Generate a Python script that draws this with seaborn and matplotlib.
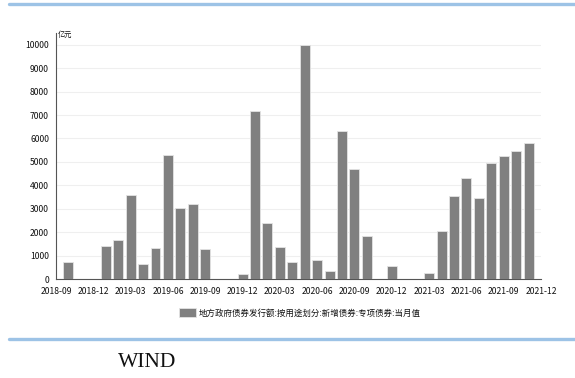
import seaborn as sns
import matplotlib.pyplot as plt
import matplotlib.ticker as mticker
from matplotlib.lines import Line2D
from matplotlib.patches import Patch
import pandas as pd

# Monthly new special-purpose local government bond issuance (亿元), 2018-10 .. 2021-11
months = pd.period_range("2018-10", "2021-11", freq="M").strftime("%Y-%m").tolist()
values = [
    730, 0, 0, 1420, 1680, 3600, 650, 1320, 5310, 3020, 3210, 1260,   # 2018-10 .. 2019-09
    0, 0, 200, 7150, 2380, 1360, 720, 9980, 820, 340, 6330, 4710,      # 2019-10 .. 2020-09
    1850, 0, 570, 0, 0, 270, 2060, 3550, 4330, 3440, 4940, 5270,       # 2020-10 .. 2021-09
    5460, 5820,                                                       # 2021-10 .. 2021-11
]
axis_start = "2018-09"
axis_end = "2021-12"
tick_labels = pd.period_range(axis_start, axis_end, freq="3M").strftime("%Y-%m").tolist()
legend_label = "地方政府债券发行额:按用途划分:新增债券:专项债券:当月值"
unit_label = "亿元"
source_label = "WIND"

start = pd.Period(axis_start, freq="M")
df = pd.DataFrame({"month": months, "value": values})
df["pos"] = [(pd.Period(m, freq="M") - start).n for m in df["month"]]
n_span = (pd.Period(axis_end, freq="M") - start).n

sns.set_style("white")
plt.rcParams["font.family"] = ["Noto Sans CJK SC", "DejaVu Sans"]

fig = plt.figure(figsize=(5.75, 3.78), dpi=100)
ax = fig.add_axes([0.0974, 0.2619, 0.8435, 0.6508])

sns.barplot(data=df, x="pos", y="value", native_scale=True, width=0.8,
            color="#808080", saturation=1, edgecolor="#e4e4e4", linewidth=0.6,
            ax=ax, zorder=3)

ax.set_xlim(0, n_span)
ax.set_ylim(0, 10500)
ax.set_xlabel("")
ax.set_ylabel("")

ax.xaxis.set_major_locator(mticker.FixedLocator(range(0, n_span + 1, 3)))
ax.xaxis.set_minor_locator(mticker.MultipleLocator(1))
ax.set_xticklabels(tick_labels)
ax.yaxis.set_major_locator(mticker.MultipleLocator(1000))
ax.yaxis.set_minor_locator(mticker.MultipleLocator(500))

ax.tick_params(axis="x", which="major", direction="out", length=4, width=0.8,
               colors="#555555", labelcolor="#111111", labelsize=6.2, pad=1.5)
ax.tick_params(axis="x", which="minor", direction="out", length=2.5, width=0.6,
               colors="#555555")
ax.tick_params(axis="y", which="major", direction="out", length=4, width=0.8,
               colors="#555555", labelcolor="#111111", labelsize=6.2, pad=1)
ax.tick_params(axis="y", which="minor", direction="in", length=2.5, width=0.6,
               colors="#555555")

ax.grid(axis="y", which="major", color="#efefef", linewidth=0.8, zorder=0)
ax.set_axisbelow(True)
for side in ["top", "right"]:
    ax.spines[side].set_visible(False)
for side in ["left", "bottom"]:
    ax.spines[side].set_color("#555555")
    ax.spines[side].set_linewidth(0.8)

fig.text(0.101, 0.907, unit_label, fontsize=5.2, ha="left", va="center", color="#111111")

handle = Patch(facecolor="#808080", edgecolor="#e4e4e4", linewidth=0.6)
fig.legend([handle], [legend_label], loc="center", bbox_to_anchor=(0.522, 0.172),
           frameon=False, fontsize=6.1, handlelength=1.9, handleheight=1.3,
           handletextpad=0.4, borderpad=0, labelcolor="#111111")

# decorative blue rules above and below the chart
fig.add_artist(Line2D([0.0157, 1.0], [0.9907, 0.9907], color="#9dc3e6", linewidth=2.4,
                      transform=fig.transFigure))
fig.add_artist(Line2D([0.0157, 1.0], [0.1019, 0.1019], color="#9dc3e6", linewidth=2.4,
                      transform=fig.transFigure))

fig.text(0.2565, 0.042, source_label, fontsize=15.5, family="Liberation Serif",
         ha="center", va="center", color="#111111")

fig.savefig("out.png", dpi=100)
